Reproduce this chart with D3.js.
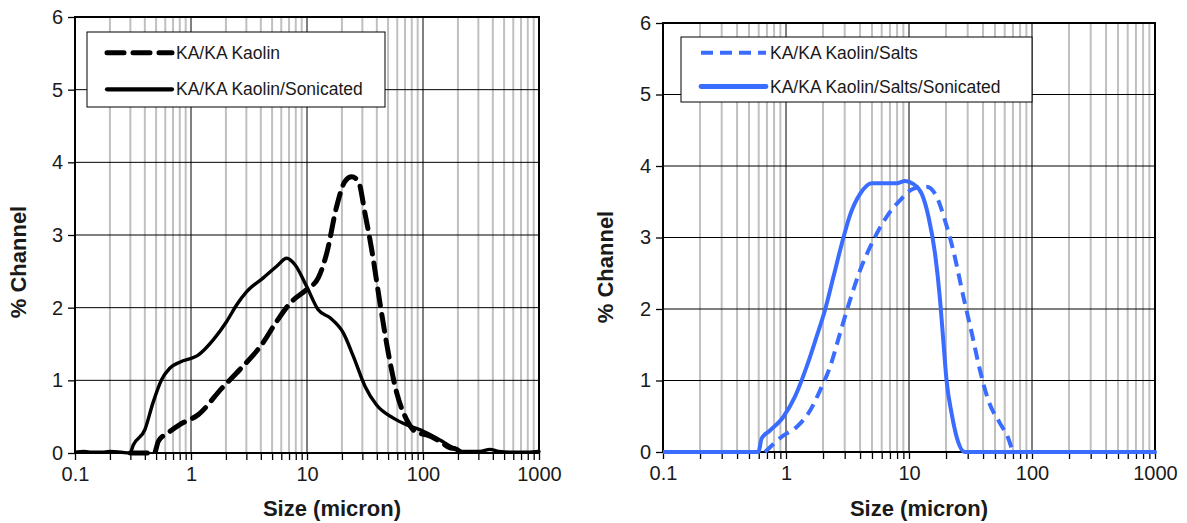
<!DOCTYPE html>
<html><head><meta charset="utf-8">
<script src="https://cdn.jsdelivr.net/npm/d3@7"></script>
<style>body{margin:0;background:#fff}svg{display:block}</style>
</head><body>
<svg id="c" width="1187" height="523"></svg>
<script>
// ---- data ----
const xTickLabels = ["0.1","1","10","100","1000"];
const yTicks = [0,1,2,3,4,5,6];

const kaolinSize = [0.30,0.34,0.40,0.483,0.523,0.637,0.80,1.16,1.84,2.64,4.06,5.47,7.13,9.94,12.5,14.8,18.0,21.3,24.3,27.7,31.6,36.1,42.6,50.2,59.3,72.3,88.3,107.6,140,171,189,214];
const kaolinVal  = [0.00,0.00,0.00,0.00,0.16,0.28,0.39,0.53,0.89,1.15,1.49,1.81,2.06,2.25,2.41,2.75,3.39,3.74,3.80,3.74,3.30,2.80,2.06,1.38,0.83,0.46,0.28,0.25,0.16,0.07,0.06,0.00];

const kaolinSonSize = [0.10,0.12,0.14,0.17,0.20,0.25,0.298,0.318,0.40,0.47,0.559,0.659,0.80,1.16,1.56,2.03,2.48,3.02,4.2,5.48,6.68,7.88,9.94,12.5,15.8,20.6,25.1,31.6,39.8,55.5,77.3,100.7,140,182,223,310,378,450,600,800,1000];
const kaolinSonVal  = [0.01,0.02,0.01,0.01,0.02,0.01,0.00,0.11,0.32,0.69,1.01,1.17,1.25,1.35,1.56,1.81,2.04,2.22,2.41,2.57,2.68,2.59,2.29,1.97,1.86,1.65,1.33,0.92,0.66,0.48,0.37,0.30,0.18,0.07,0.02,0.02,0.05,0.02,0.01,0.01,0.02];

const saltsSize = [0.675,0.95,1.22,1.57,1.89,2.28,2.75,3.31,4.0,5.13,6.58,8.45,10.8,13.9,16.8,19.6,22.9,27.7,32.4,37.8,44.2,55,64.2,68.4];
const saltsVal  = [0.00,0.23,0.35,0.58,0.86,1.19,1.66,2.12,2.54,2.96,3.29,3.52,3.68,3.71,3.57,3.24,2.82,2.17,1.66,1.14,0.72,0.40,0.19,0.05];

const saltsSonSize = [0.10,0.596,0.634,0.741,0.95,1.18,1.47,1.77,2.07,2.43,2.84,3.31,4.0,4.98,6.2,7.94,9.27,10.8,12.7,14.4,16.3,17.9,19.0,20.2,22.2,24.4,28.5,100,1000];
const saltsSonVal  = [0.00,0.00,0.19,0.30,0.49,0.77,1.19,1.61,1.98,2.45,2.91,3.31,3.61,3.76,3.76,3.76,3.79,3.75,3.61,3.29,2.77,2.12,1.56,1.00,0.54,0.21,0.00,0.00,0.00];

const seriesNames = ["KA/KA Kaolin","KA/KA Kaolin/Sonicated","KA/KA Kaolin/Salts","KA/KA Kaolin/Salts/Sonicated"];

const panels = [
  {x0:75, x1:539, y0:17, y1:453, legend:{x:87,y:32,w:298,h:75,rows:[52.7,89.3]},
   titleX:18, xTitleC:332, yTitleC:262,
   series:[
     {name:seriesNames[0], xs:kaolinSize, ys:kaolinVal, color:"#000", w:5, dash:"17,9", cap:"round"},
     {name:seriesNames[1], xs:kaolinSonSize, ys:kaolinSonVal, color:"#000", w:3.4, dash:null, cap:"round"}
   ]},
  {x0:663, x1:1155, y0:23, y1:452, legend:{x:681,y:37,w:351,h:65,rows:[52.7,86.5]},
   titleX:605, xTitleC:919, yTitleC:267,
   series:[
     {name:seriesNames[2], xs:saltsSize, ys:saltsVal, color:"#3a6cff", w:4, dash:"12,7", cap:"butt"},
     {name:seriesNames[3], xs:saltsSonSize, ys:saltsSonVal, color:"#3a6cff", w:4, dash:null, cap:"round"}
   ]}
];

const svg = d3.select("#c");
const font = "'Liberation Sans', Arial, sans-serif";

panels.forEach(p => {
  const x = d3.scaleLog().domain([0.1,1000]).range([p.x0,p.x1]);
  const y = d3.scaleLinear().domain([0,6]).range([p.y1,p.y0]);
  const g = svg.append("g");

  // minor vertical grid
  const minor = [];
  [0.1,1,10,100].forEach(d => { for (let k=2;k<=9;k++) minor.push(d*k); });
  g.selectAll(".mg").data(minor).enter().append("line")
    .attr("x1",d=>x(d)).attr("x2",d=>x(d)).attr("y1",p.y0).attr("y2",p.y1)
    .attr("stroke","#c0c0c0").attr("stroke-width",2);
  // major vertical grid
  const major = xTickLabels.map(Number);
  g.selectAll(".Mg").data(major).enter().append("line")
    .attr("x1",d=>x(d)).attr("x2",d=>x(d)).attr("y1",p.y0).attr("y2",p.y1)
    .attr("stroke","#000").attr("stroke-width",1);
  // horizontal grid
  g.selectAll(".hg").data(yTicks).enter().append("line")
    .attr("x1",p.x0).attr("x2",p.x1).attr("y1",d=>y(d)).attr("y2",d=>y(d))
    .attr("stroke","#000").attr("stroke-width",1);

  // x axis
  const xa = d3.axisBottom(x).tickValues(major.concat(minor)).tickSize(7)
    .tickFormat(d => { const i = major.indexOf(d); return i>=0 ? xTickLabels[i] : ""; });
  const gx = g.append("g").attr("transform",`translate(0,${p.y1})`).call(xa);
  gx.select(".domain").remove();
  gx.selectAll("line").attr("stroke","#000").attr("stroke-width",1.3);
  gx.selectAll("text").attr("font-family",font).attr("font-size",20).attr("fill","#1a1a1a").attr("dy","0.95em").attr("y",9);

  // y axis
  const ya = d3.axisLeft(y).tickValues(yTicks).tickSize(7).tickFormat(d3.format("d"));
  const gy = g.append("g").attr("transform",`translate(${p.x0},0)`).call(ya);
  gy.select(".domain").remove();
  gy.selectAll("line").attr("stroke","#000").attr("stroke-width",1.3);
  gy.selectAll("text").attr("font-family",font).attr("font-size",20).attr("fill","#1a1a1a").attr("x",-12);

  // frame
  g.append("rect").attr("x",p.x0).attr("y",p.y0).attr("width",p.x1-p.x0).attr("height",p.y1-p.y0)
    .attr("fill","none").attr("stroke","#000").attr("stroke-width",2);

  // series
  const clip = "clip"+p.x0;
  svg.append("clipPath").attr("id",clip).append("rect")
    .attr("x",p.x0).attr("y",p.y0-5).attr("width",p.x1-p.x0+3).attr("height",p.y1-p.y0+10);
  p.series.forEach(s => {
    const pts = s.xs.map((v,i)=>[v,s.ys[i]]);
    const line = d3.line().x(d=>x(d[0])).y(d=>y(d[1])).curve(d3.curveMonotoneX);
    g.append("path").attr("d",line(pts)).attr("fill","none")
      .attr("clip-path",`url(#${clip})`)
      .attr("stroke",s.color).attr("stroke-width",s.w)
      .attr("stroke-dasharray",s.dash).attr("stroke-linecap",s.cap).attr("stroke-linejoin","round");
  });

  // legend
  const L = p.legend;
  g.append("rect").attr("x",L.x).attr("y",L.y).attr("width",L.w).attr("height",L.h)
    .attr("fill","#fff").attr("stroke","#000").attr("stroke-width",1);
  p.series.forEach((s,i) => {
    const ly = L.rows[i];
    g.append("line").attr("x1",L.x+20).attr("x2",L.x+85).attr("y1",ly).attr("y2",ly)
      .attr("stroke",s.color).attr("stroke-width",s.dash ? s.w : s.w+0.8)
      .attr("stroke-dasharray",s.dash).attr("stroke-linecap",s.cap);
    g.append("text").attr("x",L.x+89).attr("y",ly).attr("dy","0.35em")
      .attr("font-family",font).attr("font-size",17.5).attr("fill","#1a1a1a").text(s.name);
  });

  // axis titles
  g.append("text").attr("x",p.xTitleC).attr("y",516).attr("text-anchor","middle")
    .attr("font-family",font).attr("font-weight","bold").attr("font-size",22).attr("fill","#1a1a1a")
    .text("Size (micron)");
  g.append("text").attr("transform",`translate(${p.titleX+8},${p.yTitleC}) rotate(-90)`)
    .attr("text-anchor","middle")
    .attr("font-family",font).attr("font-weight","bold").attr("font-size",22).attr("fill","#1a1a1a")
    .text("% Channel");
});
</script>
</body></html>
